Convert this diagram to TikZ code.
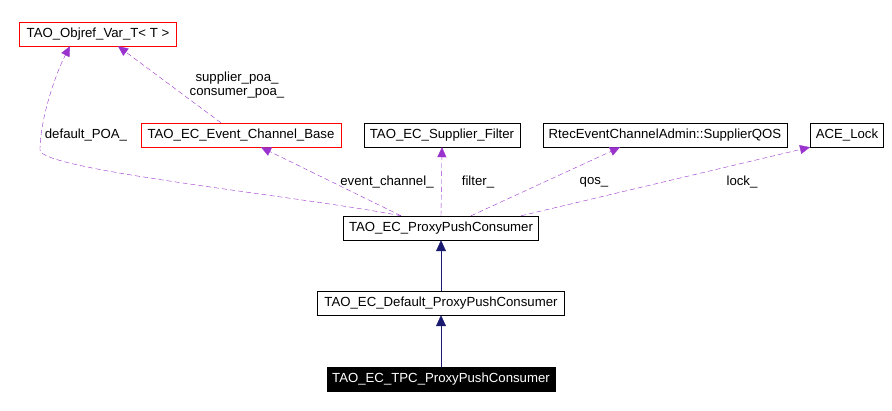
\documentclass[tikz,border=0pt]{standalone}
\usepackage{fontspec}
\setmainfont{Liberation Sans}
\usetikzlibrary{arrows.meta}
\definecolor{dep}{HTML}{9A32CD}
\definecolor{inh}{HTML}{191970}
\begin{document}
\begin{tikzpicture}[x=1pt,y=-1pt,
  box/.style={draw=black,fill=white,minimum height=24pt,inner xsep=3pt,inner ysep=0pt,font=\fontsize{13.2}{15}\selectfont,anchor=center},
  redbox/.style={box,draw=red},
  dep/.style={draw=dep,dash pattern=on 5pt off 3pt,-{Triangle[length=10pt,width=9pt,fill=dep]}},
  inh/.style={draw=inh,-{Triangle[length=11pt,width=10pt,fill=inh]}},
  lab/.style={font=\fontsize{13.2}{14.5}\selectfont,align=center}]
\useasboundingbox (0,0) rectangle (892,411);
\node[redbox,minimum width=157pt] (obj) at (98,34) {TAO\_Objref\_Var\_T< T >};
\node[redbox,minimum width=200pt] (ecb) at (241,135) {TAO\_EC\_Event\_Channel\_Base};
\node[box,minimum width=156pt] (sf) at (442,135) {TAO\_EC\_Supplier\_Filter};
\node[box,minimum width=244pt] (qos) at (665,135) {RtecEventChannelAdmin::SupplierQOS};
\node[box,minimum width=73pt] (lock) at (847,135) {ACE\_Lock};
\node[box,minimum width=195pt] (ppc) at (441,228) {TAO\_EC\_ProxyPushConsumer};
\node[box,minimum width=247pt] (dppc) at (441,303) {TAO\_EC\_Default\_ProxyPushConsumer};
\node[box,fill=black,text=white,minimum width=228pt] (tpc) at (441,379) {TAO\_EC\_TPC\_ProxyPushConsumer};
\coordinate (c1) at (40,150);
\draw[dep] ([xshift=-40pt]ppc.north) .. controls (300,196) and (40,170) .. (c1) .. controls (40,120) and (55,75) .. ([xshift=-28pt]obj.south);
\draw[dep] ([xshift=-20pt]ecb.north) -- ([xshift=20pt]obj.south);
\draw[dep] ([xshift=-40pt]ppc.north) -- ([xshift=20pt]ecb.south);
\draw[dep] (ppc.north) -- (sf.south);
\draw[dep] ([xshift=30pt]ppc.north) -- ([xshift=-45pt]qos.south);
\draw[dep] ([xshift=80pt]ppc.north) -- ([xshift=-37pt]lock.south);
\draw[inh] (dppc) -- (ppc);
\draw[inh] (tpc) -- (dppc);
\node[lab] (l1) at (86,135) {default\_POA\_};
\node[lab] (l2) at (237,85) {supplier\_poa\_\\consumer\_poa\_};
\node[lab] (l3) at (387,182) {event\_channel\_};
\node[lab] (l4) at (478,182) {filter\_};
\node[lab] (l5) at (594,182) {qos\_};
\node[lab] (l6) at (742,182) {lock\_};
\end{tikzpicture}
\end{document}
